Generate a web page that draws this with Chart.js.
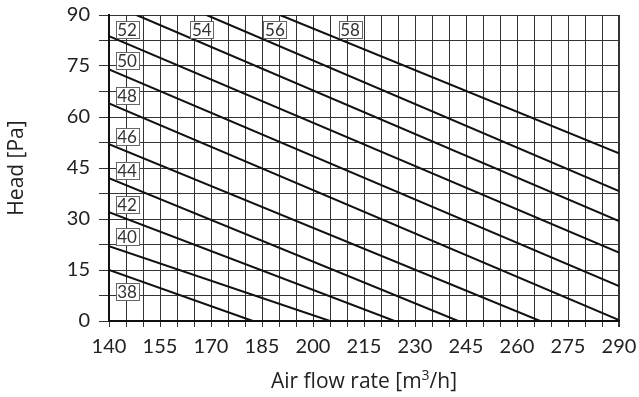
<!DOCTYPE html>
<html>
<head>
<meta charset="utf-8">
<script src="https://cdn.jsdelivr.net/npm/chart.js@4"></script>
<style>
  html, body { margin: 0; padding: 0; background: #fff; }
  #wrap { width: 639px; height: 397px; position: relative; }
</style>
</head>
<body>
<div id="wrap"><canvas id="chart"></canvas></div>
<script>
// Kennlinien (jeweils Anfangs- und Endpunkt)
const curveNames = ['38', '40', '42', '44', '46', '48', '50', '52', '54', '56', '58'];
const startX = [140, 140, 140, 140, 140, 140, 140, 140, 148.1, 168.7, 190.3];
const startY = [15, 22, 32, 42, 52, 64, 74, 83.8, 90, 90, 90];
const endX = [182.3, 205, 224, 242.7, 266.8, 290, 290, 290, 290, 290, 290];
const endY = [0, 0, 0, 0, 0, 0.3, 10.3, 20.1, 29.4, 38.2, 49.3];

// Position der Beschriftungskästchen
const labelX = [145.3, 145.3, 145.3, 145.3, 145.3, 145.3, 145.3, 145.3, 167.3, 188.8, 210.9];
const labelY = [8.8, 24.8, 34.4, 44.2, 54.4, 66.2, 76.6, 85.6, 85.6, 85.6, 85.6];

// Achsen
const xMin = 140, xMax = 290, xStep = 5, xLabelStep = 15;
const yMin = 0, yMax = 90, yStep = 7.5, yLabelStep = 15;

const FONT = 'Lato, "DejaVu Sans", sans-serif';
const TITLE_FONT = '"Open Sans", "DejaVu Sans", sans-serif';

const datasets = curveNames.map((name, i) => ({
    label: name,
    data: [{x: startX[i], y: startY[i]}, {x: endX[i], y: endY[i]}],
    borderColor: '#111',
    borderWidth: 2,
    pointRadius: 0,
    fill: false
}));

// Kästchen mit den Kurvennamen + x-Achsentitel mit Hochzahl
const extras = {
    id: 'extras',
    afterDatasetsDraw(chart) {
        const ctx = chart.ctx;
        const xs = chart.scales.x, ys = chart.scales.y;
        ctx.save();
        ctx.font = '17px ' + FONT;
        ctx.textAlign = 'center';
        ctx.textBaseline = 'middle';
        curveNames.forEach((name, i) => {
            const px = xs.getPixelForValue(labelX[i]);
            const py = ys.getPixelForValue(labelY[i]);
            const w = 23, h = 17;
            const bx = Math.round(px - w / 2) + 0.5, by = Math.round(py - h / 2) + 0.5;
            ctx.fillStyle = '#fff';
            ctx.fillRect(bx, by, w, h);
            ctx.strokeStyle = '#666';
            ctx.lineWidth = 1;
            ctx.strokeRect(bx, by, w, h);
            ctx.fillStyle = '#333';
            ctx.fillText(name, px, py + 1);
        });
        ctx.restore();
    },
    afterDraw(chart) {
        const ctx = chart.ctx;
        const area = chart.chartArea;
        const base = 'Air flow rate [m', sup = '3', tail = '/h]';
        ctx.save();
        ctx.fillStyle = '#222';
        ctx.textBaseline = 'alphabetic';
        ctx.textAlign = 'left';
        ctx.font = '21px ' + TITLE_FONT;
        const w1 = ctx.measureText(base).width, w3 = ctx.measureText(tail).width;
        ctx.font = '14px ' + TITLE_FONT;
        const w2 = ctx.measureText(sup).width;
        let x = (area.left + area.right) / 2 - (w1 + w2 + w3) / 2;
        const y = 388;
        ctx.font = '21px ' + TITLE_FONT;
        ctx.fillText(base, x, y);
        x += w1;
        ctx.font = '14px ' + TITLE_FONT;
        ctx.fillText(sup, x, y - 8);
        x += w2;
        ctx.font = '21px ' + TITLE_FONT;
        ctx.fillText(tail, x, y);
        ctx.restore();
    }
};

new Chart(document.getElementById('chart'), {
    type: 'line',
    data: { datasets: datasets },
    plugins: [extras],
    options: {
        responsive: true,
        maintainAspectRatio: false,
        animation: false,
        layout: { padding: { top: 15, right: 20, left: 0, bottom: 0 } },
        plugins: {
            legend: { display: false },
            tooltip: { enabled: false }
        },
        scales: {
            x: {
                type: 'linear',
                min: xMin,
                max: xMax,
                afterFit: s => {
                    s.height = 76;
                    s.paddingLeft = 0;
                    s.paddingRight = 0;
                },
                afterBuildTicks: s => {
                    s.ticks = [];
                    for (let v = xMin; v <= xMax; v += xStep) s.ticks.push({ value: v });
                },
                border: { display: true, color: '#111', width: 2 },
                grid: {
                    color: '#333',
                    lineWidth: c => (c.tick && c.tick.value === xMax ? 2 : 1),
                    tickLength: 6
                },
                ticks: {
                    autoSkip: false,
                    maxRotation: 0,
                    padding: 8,
                    color: '#222',
                    font: { family: FONT, size: 20 },
                    callback: v => ((v - xMin) % xLabelStep === 0 ? String(v) : '')
                },
                title: { display: false }
            },
            y: {
                type: 'linear',
                min: yMin,
                max: yMax,
                afterFit: s => {
                    s.width = 109;
                    s.paddingTop = 0;
                    s.paddingBottom = 0;
                },
                afterBuildTicks: s => {
                    s.ticks = [];
                    for (let v = yMin; v <= yMax; v += yStep) s.ticks.push({ value: v });
                },
                border: { display: true, color: '#111', width: 2 },
                grid: {
                    color: '#333',
                    lineWidth: 1,
                    tickLength: 10
                },
                ticks: {
                    autoSkip: false,
                    padding: 9,
                    color: '#222',
                    font: { family: FONT, size: 20 },
                    callback: v => (v % yLabelStep === 0 ? String(v) : '')
                },
                title: {
                    display: true,
                    text: 'Head [Pa]',
                    color: '#222',
                    font: { family: TITLE_FONT, size: 21 },
                    padding: { top: 4, bottom: 0 }
                }
            }
        }
    }
});
</script>
</body>
</html>
